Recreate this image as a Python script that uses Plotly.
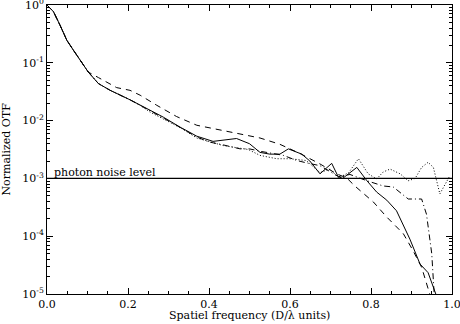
import plotly.graph_objects as go

# solid curve
x_solid = [0.0, 0.016, 0.032, 0.049, 0.065, 0.081, 0.102, 0.127, 0.156, 0.205, 0.23,
           0.254, 0.287, 0.328, 0.37, 0.41, 0.44, 0.468, 0.50, 0.526, 0.55, 0.575,
           0.596, 0.629, 0.649, 0.674, 0.703, 0.719, 0.73, 0.765, 0.79, 0.814, 0.839,
           0.863, 0.896, 0.921, 0.941, 0.96]
y_solid = [1.0, 0.766, 0.45, 0.245, 0.166, 0.111, 0.069, 0.0437, 0.0334, 0.0229, 0.0184,
           0.0151, 0.0115, 0.00776, 0.00537, 0.00437, 0.00457, 0.0049, 0.00398, 0.00282,
           0.00263, 0.00263, 0.00324, 0.00263, 0.002, 0.0012, 0.00182, 0.00107, 0.001,
           0.00155, 0.00091, 0.00058, 0.00042, 0.000275, 0.000089, 0.000033, 0.0000234,
           0.00001]

# dashed curve
x_dash = [0.0, 0.016, 0.032, 0.049, 0.065, 0.081, 0.102, 0.127, 0.172, 0.205, 0.23,
          0.271, 0.32, 0.37, 0.419, 0.452, 0.493, 0.526, 0.575, 0.625, 0.674, 0.715,
          0.74, 0.76, 0.806, 0.839, 0.88, 0.904, 0.925, 0.945]
y_dash = [1.0, 0.766, 0.45, 0.245, 0.166, 0.111, 0.069, 0.0555, 0.0372, 0.0334, 0.0275,
          0.0184, 0.01175, 0.0083, 0.00708, 0.00646, 0.0055, 0.005, 0.00389, 0.00269,
          0.00178, 0.0012, 0.00102, 0.00074, 0.00039, 0.000214, 0.00011, 0.000056,
          0.000029, 0.00001]

# dash-dot curve
x_dashdot = [0.0, 0.016, 0.032, 0.049, 0.065, 0.081, 0.102, 0.127, 0.156, 0.205, 0.23,
             0.254, 0.287, 0.312, 0.37, 0.40, 0.435, 0.477, 0.50, 0.526, 0.583, 0.617,
             0.64, 0.674, 0.72, 0.748, 0.79, 0.83, 0.855, 0.892, 0.925, 0.937, 0.95, 0.956]
y_dashdot = [1.0, 0.766, 0.45, 0.245, 0.166, 0.111, 0.069, 0.0437, 0.0334, 0.0229, 0.0184,
             0.0148, 0.011, 0.0089, 0.0052, 0.00427, 0.0038, 0.00324, 0.00324, 0.00295,
             0.00251, 0.00204, 0.00186, 0.00166, 0.00107, 0.00117, 0.00091, 0.00074,
             0.00071, 0.00044, 0.00044, 0.00024, 0.00005, 0.00001]

# dotted curve
x_dot = [0.0, 0.016, 0.032, 0.049, 0.065, 0.081, 0.102, 0.127, 0.156, 0.205, 0.23,
         0.254, 0.287, 0.328, 0.37, 0.435, 0.497, 0.526, 0.567, 0.60, 0.64, 0.674,
         0.699, 0.72, 0.745, 0.769, 0.793, 0.814, 0.83, 0.847, 0.872, 0.892, 0.909,
         0.925, 0.941, 0.954, 0.97, 0.983, 0.995]
y_dot = [1.0, 0.766, 0.45, 0.245, 0.166, 0.111, 0.069, 0.0437, 0.0334, 0.0229, 0.0184,
         0.0141, 0.0107, 0.0076, 0.005, 0.0037, 0.00316, 0.0025, 0.00219, 0.00219,
         0.00204, 0.00126, 0.00145, 0.00102, 0.00126, 0.00219, 0.0012, 0.00098,
         0.00129, 0.00145, 0.0012, 0.00091, 0.001, 0.00155, 0.0019, 0.00155, 0.00054,
         0.00079, 0.00112]

noise_level = 1e-3
x_ticks = [0.0, 0.2, 0.4, 0.6, 0.8, 1.0]
x_ticktext = ["0.0", "0.2", "0.4", "0.6", "0.8", "1.0"]
y_ticks = [1e-5, 1e-4, 1e-3, 1e-2, 1e-1, 1.0]
y_ticktext = ["10<sup>-5</sup>", "10<sup>-4</sup>", "10<sup>-3</sup>",
              "10<sup>-2</sup>", "10<sup>-1</sup>", "10<sup>0</sup>"]

font_name = "DejaVu Serif"
fsize = 11

fig = go.Figure()

# IDL-like line styles
curves = [
    (x_solid, y_solid, "solid"),
    (x_dash, y_dash, "6px,5px"),
    (x_dashdot, y_dashdot, "6px,3px,1px,3px"),
    (x_dot, y_dot, "1px,2px"),
]
for xs, ys, dash in curves:
    fig.add_trace(go.Scatter(
        x=xs, y=ys, mode="lines",
        line=dict(color="black", width=1, dash=dash),
        showlegend=False,
    ))

# photon noise level
fig.add_trace(go.Scatter(
    x=[0.0, 1.0], y=[noise_level, noise_level], mode="lines",
    line=dict(color="black", width=1.2),
    showlegend=False,
))
fig.add_annotation(
    x=0.012, y=-3, xref="x", yref="y", text="photon noise level",
    showarrow=False, xanchor="left", yanchor="bottom", yshift=-3,
    font=dict(family=font_name, size=fsize, color="black"),
)

# axis titles
fig.add_annotation(
    x=0.5, y=0, xref="paper", yref="paper", text="Spatiel frequency (D/λ units)",
    showarrow=False, xanchor="center", yanchor="bottom", yshift=-30,
    font=dict(family=font_name, size=fsize, color="black"),
)
fig.add_annotation(
    x=0, y=0.5, xref="paper", yref="paper", text="Normalized OTF", textangle=-90,
    showarrow=False, xanchor="center", yanchor="middle", xshift=-41,
    font=dict(family=font_name, size=fsize, color="black"),
)

minor_y = [m * 10 ** e for e in range(-5, 0) for m in range(2, 10)]

fig.update_layout(
    width=460, height=324,
    margin=dict(l=47, r=8, t=5, b=30),
    paper_bgcolor="white", plot_bgcolor="white",
    font=dict(family=font_name, size=fsize, color="black"),
)
fig.update_xaxes(
    range=[0, 1], tickvals=x_ticks, ticktext=x_ticktext,
    ticks="inside", ticklen=6, tickcolor="black", mirror="allticks",
    showline=True, linecolor="black", linewidth=1, showgrid=False, zeroline=False,
    minor=dict(ticks="inside", dtick=0.05, ticklen=3, tickcolor="black", showgrid=False),
    tickfont=dict(family=font_name, size=fsize), automargin=False,
    ticklabeloverflow="allow",
)
fig.update_yaxes(
    type="log", range=[-5, 0], tickvals=y_ticks, ticktext=y_ticktext,
    ticks="inside", ticklen=6, tickcolor="black", mirror="allticks",
    showline=True, linecolor="black", linewidth=1, showgrid=False, zeroline=False,
    minor=dict(ticks="inside", tickvals=minor_y, ticklen=3, tickcolor="black", showgrid=False),
    tickfont=dict(family=font_name, size=fsize), automargin=False,
    ticklabeloverflow="allow",
)

# page body has a default 8px margin; drop it so the figure sits at the window origin
fig.write_html("out.html", config={"displayModeBar": False},
               post_script="document.body.style.margin = '0';")
